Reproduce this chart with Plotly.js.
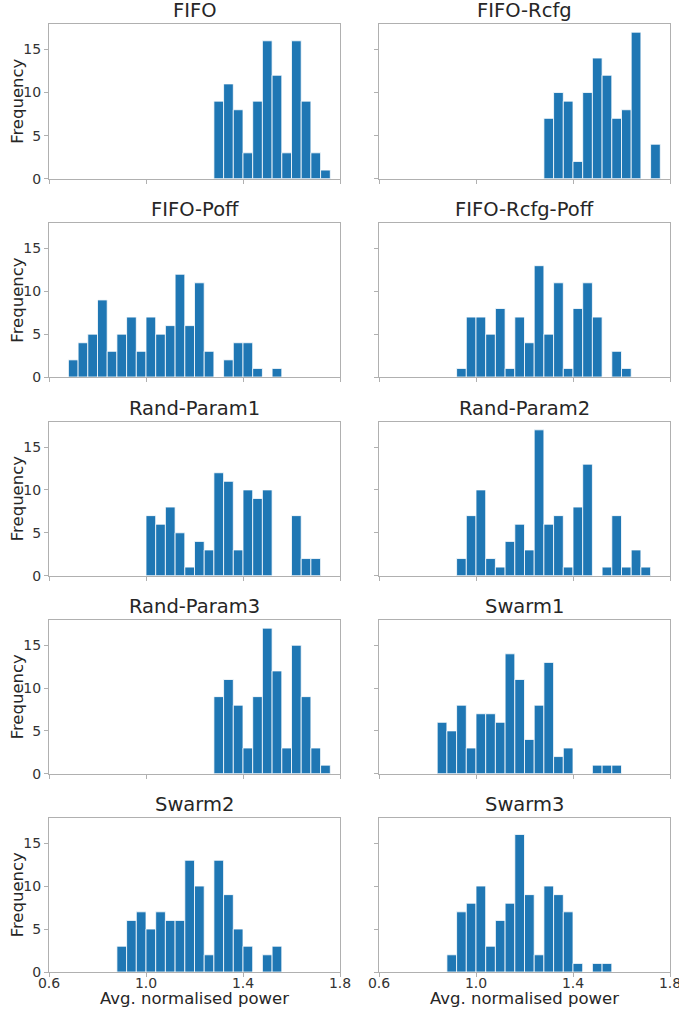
<!DOCTYPE html>
<html>
<head>
<meta charset="utf-8">
<script src="https://cdn.plot.ly/plotly-3.0.1.min.js"></script>
<style>html,body{margin:0;padding:0;background:#fff;}#chart{width:679px;height:1010px;}</style>
</head>
<body>
<div id="chart"></div>
<script>
// Panel names (row-major, 2 columns)
const panelNames = ["FIFO", "FIFO-Rcfg", "FIFO-Poff", "FIFO-Rcfg-Poff", "Rand-Param1", "Rand-Param2", "Rand-Param3", "Swarm1", "Swarm2", "Swarm3"];
// Bin width of every histogram
const binWidth = 0.04;
// Left edge of the first bin of each panel
const binStarts = [1.28, 1.28, 0.68, 0.92, 1.00, 0.92, 1.28, 0.84, 0.88, 0.88];
// Counts per bin, consecutive bins from the first bin edge
const countsFIFO        = [9, 11, 8, 3, 9, 16, 12, 3, 16, 9, 3, 1];
const countsFIFORcfg    = [7, 10, 9, 2, 10, 14, 12, 7, 8, 17, 0, 4];
const countsFIFOPoff    = [2, 4, 5, 9, 3, 5, 7, 3, 7, 5, 6, 12, 6, 11, 3, 0, 2, 4, 4, 1, 0, 1];
const countsFIFORcfgPoff= [1, 7, 7, 5, 8, 1, 7, 4, 13, 5, 11, 1, 8, 11, 7, 0, 3, 1];
const countsRandParam1  = [7, 6, 8, 5, 1, 4, 3, 12, 11, 3, 10, 9, 10, 0, 0, 7, 2, 2];
const countsRandParam2  = [2, 7, 10, 2, 1, 4, 6, 3, 17, 6, 7, 1, 8, 13, 0, 1, 7, 1, 3, 1];
const countsRandParam3  = [9, 11, 8, 3, 9, 17, 12, 3, 15, 9, 3, 1];
const countsSwarm1      = [6, 5, 8, 3, 7, 7, 6, 14, 11, 4, 8, 13, 2, 3, 0, 0, 1, 1, 1];
const countsSwarm2      = [3, 6, 7, 5, 7, 6, 6, 13, 10, 2, 13, 9, 5, 3, 0, 2, 3];
const countsSwarm3      = [2, 7, 8, 10, 3, 6, 8, 16, 9, 2, 10, 9, 7, 1, 0, 1, 1];
const allCounts = [countsFIFO, countsFIFORcfg, countsFIFOPoff, countsFIFORcfgPoff, countsRandParam1,
                   countsRandParam2, countsRandParam3, countsSwarm1, countsSwarm2, countsSwarm3];
// Axis ticks
const xTickVals = [0.6, 1.0, 1.4, 1.8];
const xTickText = ["0.6", "1.0", "1.4", "1.8"];
const yTickVals = [0, 5, 10, 15];
const yTickText = ["0", "5", "10", "15"];
const xLabel = "Avg. normalised power";
const yLabel = "Frequency";

const W = 679, H = 1010;
const colPx = [[49, 340], [379, 670]];
const rowPx = [[24, 178.7], [223.3, 377], [421.7, 575.7], [620, 773.7], [817.7, 972]];

const traces = [];
const layout = {
  width: W, height: H,
  margin: {l: 0, r: 0, t: 0, b: 0},
  paper_bgcolor: "#ffffff", plot_bgcolor: "#ffffff",
  showlegend: false,
  bargap: 0,
  font: {family: "DejaVu Sans, sans-serif", color: "#333333"},
  annotations: []
};

const axisCommon = {
  showline: true, mirror: true, linecolor: "#b0b0b0", linewidth: 1,
  showgrid: false, zeroline: false, ticks: "outside", ticklen: 4, tickwidth: 1,
  tickcolor: "#b0b0b0", tickfont: {size: 14, color: "#333333", family: "DejaVu Sans"},
  fixedrange: true
};

for (let i = 0; i < panelNames.length; i++) {
  const r = Math.floor(i / 2), c = i % 2;
  const n = i + 1;
  const xa = "x" + (n === 1 ? "" : n), ya = "y" + (n === 1 ? "" : n);
  const xk = "xaxis" + (n === 1 ? "" : n), yk = "yaxis" + (n === 1 ? "" : n);
  const counts = allCounts[i];
  const xs = counts.map((_, k) => binStarts[i] + binWidth * (k + 0.5));
  traces.push({
    type: "bar", x: xs, y: counts, width: binWidth,
    xaxis: xa, yaxis: ya,
    marker: {color: "#1f77b4", line: {color: "#ffffff", width: 0.8}},
    hoverinfo: "x+y"
  });
  const xd = [colPx[c][0] / W, colPx[c][1] / W];
  const yd = [1 - rowPx[r][1] / H, 1 - rowPx[r][0] / H];
  layout[xk] = Object.assign({}, axisCommon, {
    domain: xd, range: [0.6, 1.8], anchor: ya,
    tickvals: xTickVals, ticktext: xTickText, showticklabels: r === 4,
    ticklabelstandoff: -6, ticklabeloverflow: "allow"
  });
  layout[yk] = Object.assign({}, axisCommon, {
    domain: yd, range: [0, 17.95], anchor: xa,
    tickvals: yTickVals, ticktext: yTickText, showticklabels: c === 0
  });
  layout.annotations.push({
    text: panelNames[i], xref: "paper", yref: "paper",
    x: (xd[0] + xd[1]) / 2, y: yd[1], xanchor: "center", yanchor: "bottom",
    yshift: 0, showarrow: false, font: {size: 19.5, color: "#262626", family: "DejaVu Sans"}
  });
  if (c === 0) {
    layout.annotations.push({
      text: yLabel, xref: "paper", yref: "paper",
      x: 17.5 / W, y: (yd[0] + yd[1]) / 2, xanchor: "center", yanchor: "middle",
      textangle: -90, showarrow: false, font: {size: 16.5, color: "#262626", family: "DejaVu Sans"}
    });
  }
  if (r === 4) {
    layout.annotations.push({
      text: xLabel, xref: "paper", yref: "paper",
      x: (xd[0] + xd[1]) / 2, y: 1 - 1009 / H, xanchor: "center", yanchor: "bottom",
      showarrow: false, borderpad: 0, font: {size: 16.5, color: "#262626", family: "DejaVu Sans"}
    });
  }
}

Plotly.newPlot("chart", traces, layout, {displayModeBar: false, staticPlot: true});
</script>
</body>
</html>
